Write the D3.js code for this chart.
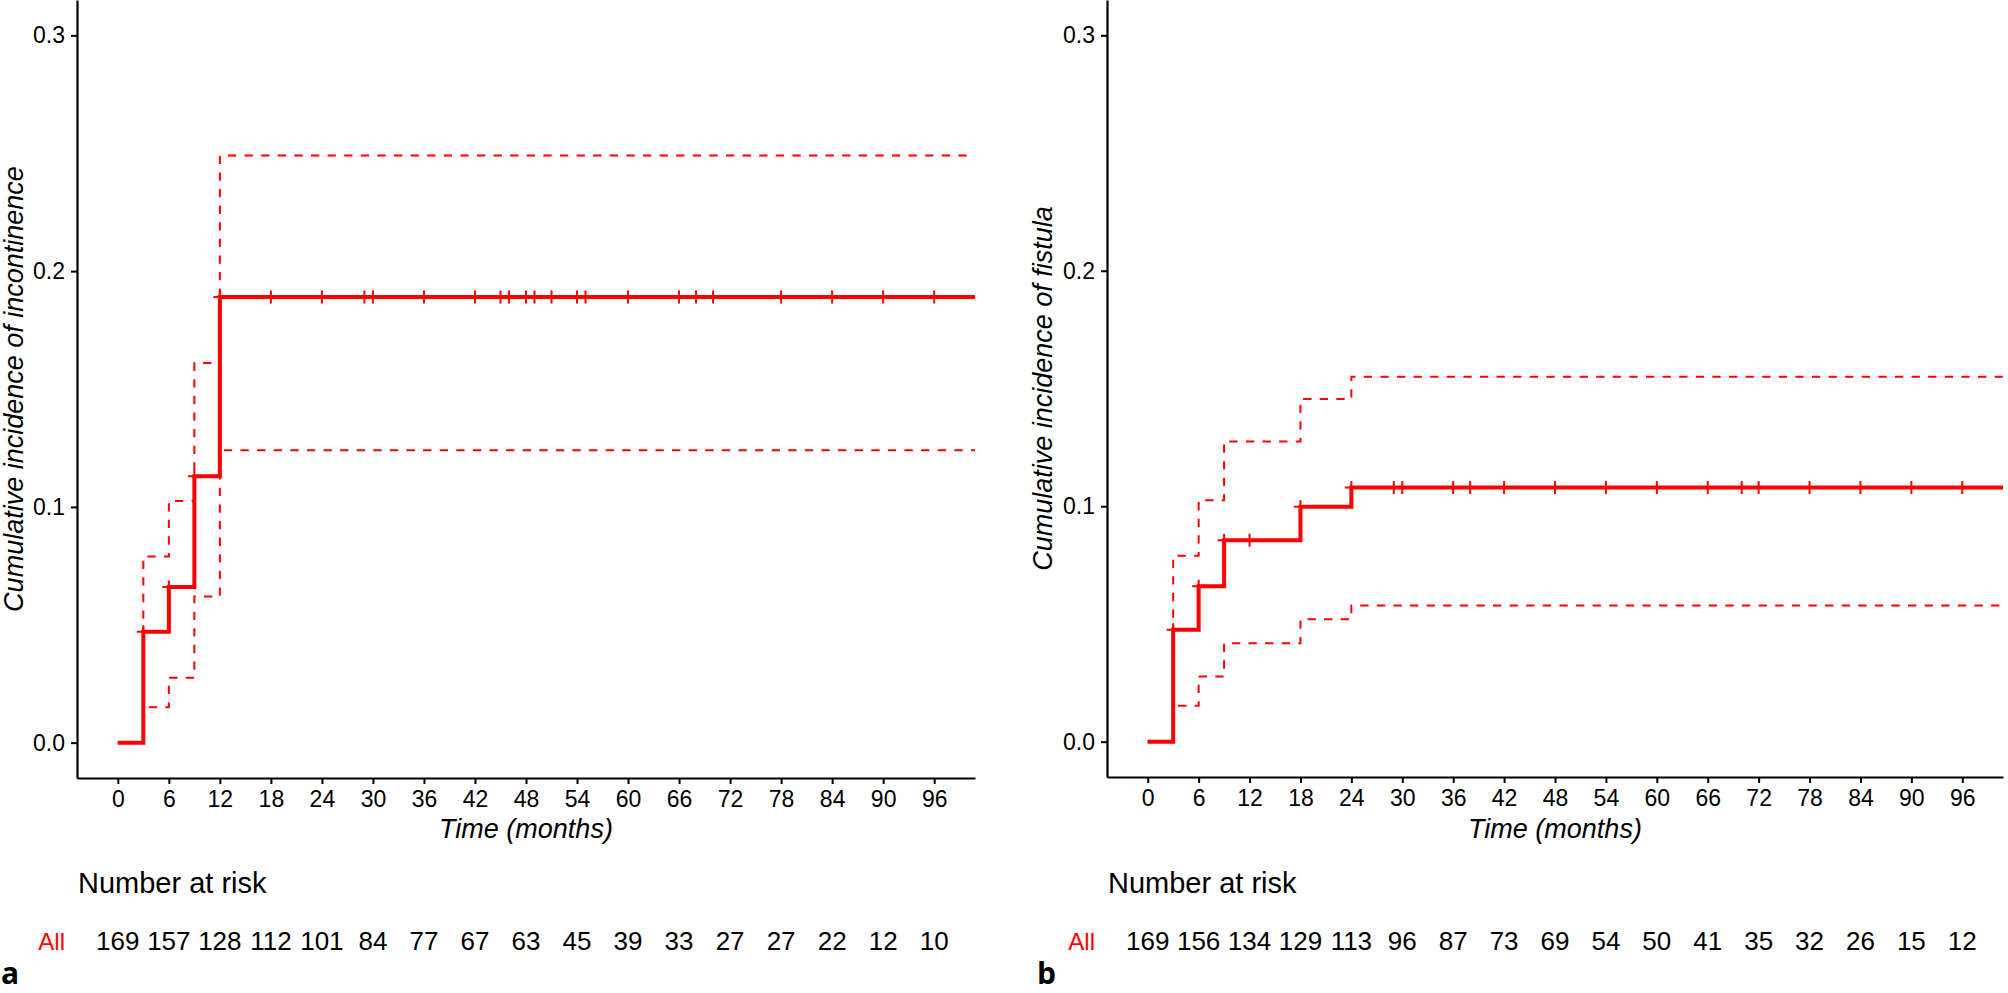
<!DOCTYPE html>
<html>
<head>
<meta charset="utf-8">
<script src="https://cdn.jsdelivr.net/npm/d3@7/dist/d3.min.js"></script>
<style>
  html, body { margin: 0; padding: 0; background: #fff; }
  svg { display: block; }
  text { font-family: "Liberation Sans", Arial, sans-serif; }
  .tick text { font-size: 23px !important; fill: #000; }
</style>
</head>
<body>
<svg id="chart" width="2008" height="993"></svg>
<script>
// ---------- DATA ----------
const xTicks = [0, 6, 12, 18, 24, 30, 36, 42, 48, 54, 60, 66, 72, 78, 84, 90, 96];
const yTicks = [0.0, 0.1, 0.2, 0.3];

// Panel a: incontinence
const timesA = [0, 3, 6, 9, 12];
const estA   = [0, 0.047, 0.066, 0.113, 0.189];
const upperA = [0, 0.079, 0.1025, 0.161, 0.249];
const lowerA = [0, 0.015, 0.0275, 0.062, 0.124];
const censorA = [3, 6, 9, 12, 18, 24, 29, 30, 36, 42, 45, 46, 48, 49, 51, 54, 55, 60, 66, 68, 70, 78, 84, 90, 96];
const riskA = [169, 157, 128, 112, 101, 84, 77, 67, 63, 45, 39, 33, 27, 27, 22, 12, 10];

// Panel b: fistula
const timesB = [0, 3, 6, 9, 18, 24];
const estB   = [0, 0.0475, 0.066, 0.0856, 0.0998, 0.108];
const upperB = [0, 0.079, 0.1025, 0.1275, 0.1455, 0.155];
const lowerB = [0, 0.0153, 0.0277, 0.0418, 0.052, 0.0578];
const censorB = [3, 6, 9, 12, 18, 24, 29, 30, 36, 38, 42, 48, 54, 60, 66, 70, 72, 78, 84, 90, 96];
const riskB = [169, 156, 134, 129, 113, 96, 87, 73, 69, 54, 50, 41, 35, 32, 26, 15, 12];

const panels = [
  { id: "a", ylab: "Cumulative incidence of incontinence", times: timesA, est: estA, upper: upperA, lower: lowerA, censor: censorA, risk: riskA,
    x0: 77, x1: 975, y1: 778, ylabX: 23, tagX: 1 },
  { id: "b", ylab: "Cumulative incidence of fistula", times: timesB, est: estB, upper: upperB, lower: lowerB, censor: censorB, risk: riskB,
    x0: 1107, x1: 2003, y1: 777, ylabX: 1052, tagX: 1037 }
];

const RED = "#ff0000";
const svg = d3.select("#chart");
const xDomain = [-4.8, 100.8];
const yDomain = [-0.015, 0.315];

panels.forEach(p => {
  const g = svg.append("g");
  const x = d3.scaleLinear().domain(xDomain).range([p.x0, p.x1]);
  const y = d3.scaleLinear().domain(yDomain).range([p.y1, 0]);

  const clipId = "clip-" + p.id;
  svg.append("clipPath").attr("id", clipId)
    .append("rect").attr("x", p.x0).attr("y", 0).attr("width", p.x1 - p.x0).attr("height", p.y1);

  const stepLine = d3.line().x(d => x(d[0])).y(d => y(d[1])).curve(d3.curveStepAfter);
  const series = vals => {
    const pts = p.times.map((t, i) => [t, vals[i]]);
    pts.push([xDomain[1], vals[vals.length - 1]]);
    return pts;
  };

  const plot = g.append("g").attr("clip-path", `url(#${clipId})`);

  // confidence bands (dashed)
  [p.upper, p.lower].forEach(v => {
    plot.append("path")
      .attr("d", stepLine(series(v)))
      .attr("fill", "none")
      .attr("stroke", RED)
      .attr("stroke-width", 2)
      .attr("stroke-dasharray", "8.3 8.3");
  });

  // estimate
  plot.append("path")
    .attr("d", stepLine(series(p.est)))
    .attr("fill", "none")
    .attr("stroke", RED)
    .attr("stroke-width", 4);

  // censor marks
  const estAt = t => {
    let v = p.est[0];
    p.times.forEach((tt, i) => { if (tt <= t) v = p.est[i]; });
    return v;
  };
  const half = 6.5;
  plot.selectAll(".cens").data(p.censor).enter().append("path")
    .attr("d", t => {
      const cx = x(t), cy = y(estAt(t));
      return `M${cx - half},${cy}H${cx + half}M${cx},${cy - half}V${cy + half}`;
    })
    .attr("stroke", RED)
    .attr("stroke-width", 2)
    .attr("fill", "none");

  // axes
  const yAxis = d3.axisLeft(y).tickValues(yTicks).tickFormat(d3.format(".1f"))
    .tickSize(6).tickSizeOuter(0).tickPadding(6);
  const ya = g.append("g").attr("transform", `translate(${p.x0},0)`).call(yAxis);

  const xAxis = d3.axisBottom(x).tickValues(xTicks).tickFormat(d3.format("d"))
    .tickSize(6).tickSizeOuter(0).tickPadding(7);
  const xa = g.append("g").attr("transform", `translate(0,${p.y1})`).call(xAxis);

  [ya, xa].forEach(a => {
    a.attr("font-size", 23).attr("font-family", "Liberation Sans");
    a.select(".domain").attr("stroke", "#000").attr("stroke-width", 2.2);
    a.selectAll(".tick line").attr("stroke", "#000").attr("stroke-width", 2);
    a.selectAll(".tick text").attr("fill", "#000").attr("font-size", 23);
  });

  // axis titles
  g.append("text")
    .attr("x", (p.x0 + p.x1) / 2).attr("y", 838)
    .attr("text-anchor", "middle")
    .style("font-size", "27px").style("font-style", "italic")
    .text("Time (months)");

  g.append("text")
    .attr("transform", `translate(${p.ylabX},${p.y1 / 2}) rotate(-90)`)
    .attr("text-anchor", "middle")
    .style("font-size", "27px").style("font-style", "italic")
    .text(p.ylab);

  // risk table
  g.append("text")
    .attr("x", p.x0 + 1).attr("y", 893)
    .style("font-size", "29px")
    .text("Number at risk");

  g.append("text")
    .attr("x", p.x0 - 12).attr("y", 950)
    .attr("text-anchor", "end")
    .attr("fill", RED)
    .style("font-size", "24px")
    .text("All");

  g.selectAll(".risk").data(p.risk).enter().append("text")
    .attr("x", (d, i) => x(xTicks[i]))
    .attr("y", 950)
    .attr("text-anchor", "middle")
    .style("font-size", "26px")
    .text(d => d);

  // panel tag
  g.append("text")
    .attr("x", p.tagX).attr("y", 984)
    .style("font-family", "'Open Sans', 'Liberation Sans', sans-serif")
    .style("font-weight", "bold")
    .style("font-size", "30px")
    .text(p.id);
});
</script>
</body>
</html>
